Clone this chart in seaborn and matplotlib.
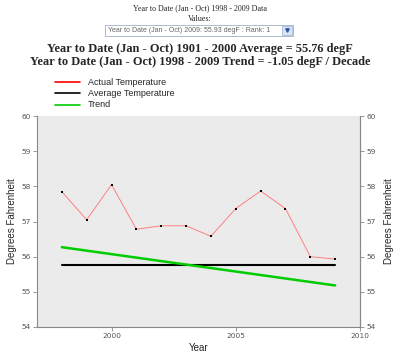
import seaborn as sns
import matplotlib.pyplot as plt
import pandas as pd
from matplotlib.patches import Rectangle

# valores
years = [1998, 1999, 2000, 2001, 2002, 2003, 2004, 2005, 2006, 2007, 2008, 2009]
actual = [57.85, 57.05, 58.05, 56.78, 56.88, 56.88, 56.58, 57.37, 57.87, 57.37, 56.0, 55.93]
average = 55.76
trend_years = [1998, 2009]
trend_vals = [56.27, 55.18]

df = pd.DataFrame({'Year': years, 'Actual': actual})
df_avg = pd.DataFrame({'Year': [years[0], years[-1]], 'Average': [average, average]})
df_trend = pd.DataFrame({'Year': trend_years, 'Trend': trend_vals})

sns.set_style("white")
fig = plt.figure(figsize=(4, 3.62), dpi=100)
ax = fig.add_axes([0.0925, 0.097, 0.8075, 0.582])
ax.set_facecolor('#ebebeb')

sns.lineplot(data=df, x='Year', y='Actual', color='#ff8080', linewidth=0.7, ax=ax)
sns.scatterplot(data=df, x='Year', y='Actual', color='black', marker='s', s=2.5, linewidth=0, ax=ax, zorder=5)
sns.lineplot(data=df_avg, x='Year', y='Average', color='black', linewidth=1.5, ax=ax)
sns.lineplot(data=df_trend, x='Year', y='Trend', color='#00cc00', linewidth=1.8, ax=ax)

ax.set_xlim(1997, 2010)
ax.set_ylim(54, 60)
ax.set_xticks([2000, 2005, 2010])
ax.set_yticks(range(54, 61))
for s in ['left', 'right', 'bottom']:
    ax.spines[s].set_color('#888888')
    ax.spines[s].set_linewidth(0.8)
ax.spines['top'].set_visible(False)
ax.tick_params(axis='both', length=3, width=0.6, color='#888888', labelsize=5.3,
               labelcolor='#555555', pad=1.5, left=True, bottom=True)
ax.set_xlabel('Year', fontsize=7, family='Liberation Sans', labelpad=3)
ax.set_ylabel('Degrees Fahrenheit', fontsize=7, family='Liberation Sans', labelpad=3)

ax2 = ax.twinx()
ax2.set_ylim(54, 60)
ax2.set_yticks(range(54, 61))
for s in ['left', 'top', 'bottom']:
    ax2.spines[s].set_visible(False)
ax2.spines['right'].set_color('#888888')
ax2.spines['right'].set_linewidth(0.8)
ax2.tick_params(axis='y', length=3, width=0.6, color='#888888', labelsize=5.3,
                labelcolor='#555555', pad=1.5, right=True)
ax2.set_ylabel('Degrees Fahrenheit', fontsize=7, family='Liberation Sans', labelpad=6)

# cabecera
fig.text(0.5, 0.978, 'Year to Date (Jan - Oct) 1998 - 2009 Data', ha='center', va='center',
         fontsize=5.8, family='Liberation Serif')
fig.text(0.5, 0.948, 'Values:', ha='center', va='center', fontsize=5.8, family='Liberation Serif')
# caja desplegable
fig.add_artist(Rectangle((0.263, 0.900), 0.47, 0.032, transform=fig.transFigure,
                         facecolor='white', edgecolor='#9db0cc', linewidth=0.6))
fig.text(0.27, 0.916, 'Year to Date (Jan - Oct) 2009: 55.93 degF : Rank: 1', ha='left', va='center',
         fontsize=5, family='Liberation Sans', color='#666666')
fig.add_artist(Rectangle((0.705, 0.903), 0.025, 0.026, transform=fig.transFigure,
                         facecolor='#d8e4f8', edgecolor='#9db0cc', linewidth=0.5))
fig.add_artist(plt.Line2D([0.7175], [0.916], marker='v', markersize=2.5, color='#3355aa',
                          transform=fig.transFigure))

fig.text(0.5, 0.864, 'Year to Date (Jan - Oct) 1901 - 2000 Average = 55.76 degF', ha='center', va='center',
         fontsize=8.9, family='Liberation Serif', weight='bold')
fig.text(0.5, 0.829, 'Year to Date (Jan - Oct) 1998 - 2009 Trend = -1.05 degF / Decade', ha='center', va='center',
         fontsize=8.9, family='Liberation Serif', weight='bold')

# leyenda
leg_items = [('Actual Temperature', 'red'), ('Average Temperature', 'black'), ('Trend', '#00cc00')]
for i, (lab, col) in enumerate(leg_items):
    yy = 0.773 - i * 0.031
    fig.add_artist(plt.Line2D([0.137, 0.2], [yy, yy], color=col, linewidth=1.2))
    fig.text(0.22, yy, lab, ha='left', va='center', fontsize=6.5, family='Liberation Sans')

plt.savefig('out.png', dpi=100)
